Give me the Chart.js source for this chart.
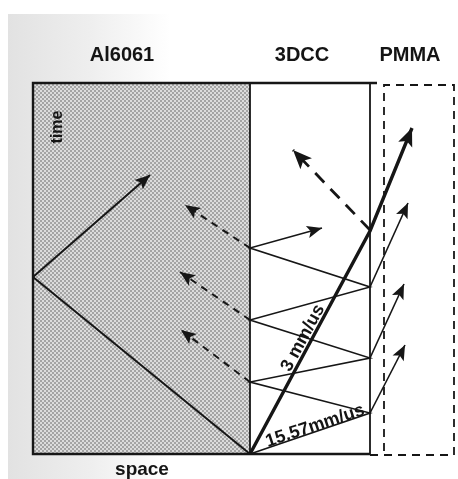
<!DOCTYPE html>
<html>
<head>
<meta charset="utf-8">
<script src="https://cdn.jsdelivr.net/npm/chart.js@4.4.1/dist/chart.umd.min.js"></script>
<style>
  html, body { margin: 0; padding: 0; background: #fff; }
  #wrap { width: 458px; height: 479px; }
</style>
</head>
<body>
<div id="wrap"><canvas id="diagram" width="458" height="479"></canvas></div>
<script>
// x-t diagram: space (x) vs time (y), arbitrary units
const spaceEdges = [0, 217, 337];      // Al left face, Al/3DCC interface, 3DCC/PMMA interface
const boxTopTime = 371;
const pmmaEdges = [351, 421];
const pmmaTime = [-1, 369];

const materialNames = ['Al6061', '3DCC', 'PMMA'];
const materialLabelSpace = [89, 269, 377];

// wave paths [space, time]
const alIncident = [[217, 0], [0, 177]];
const alRelease = [[0, 177], [117, 279]];
const shockFront = [[217, 0], [337, 223], [379, 326]];
const reverberation = [[217, 0], [337, 41], [217, 72], [337, 96], [217, 134], [337, 167], [217, 206], [289, 226]];
const transmitted = [
    [[337, 41], [372, 109]],
    [[337, 96], [371, 170]],
    [[337, 167], [375, 251]]
];
const reflectedIntoAl = [
    [[217, 72], [148, 124]],
    [[217, 134], [147, 182]],
    [[217, 206], [152, 249]]
];
const lateRelease = [[337, 224], [260, 304]];

function pts(arr) {
    return arr.map(p => ({ x: p[0], y: p[1] }));
}

function line(arr, opts) {
    return Object.assign({
        data: pts(arr),
        showLine: true,
        pointRadius: 0,
        borderColor: '#161616',
        borderWidth: 1.9,
        fill: false,
        tension: 0
    }, opts || {});
}

const datasets = [];
// frame
datasets.push(line([[spaceEdges[2], 0], [spaceEdges[0], 0], [spaceEdges[0], boxTopTime], [spaceEdges[2] + 7, boxTopTime]], { borderWidth: 2.4 }));
datasets.push(line([[spaceEdges[1], 0], [spaceEdges[1], boxTopTime]], { borderWidth: 1.8 }));
datasets.push(line([[spaceEdges[2], 0], [spaceEdges[2], boxTopTime]], { borderWidth: 1.8 }));
// PMMA dashed window
datasets.push(line([[spaceEdges[2], pmmaTime[0]], [pmmaEdges[1], pmmaTime[0]], [pmmaEdges[1], pmmaTime[1]], [pmmaEdges[0], pmmaTime[1]], [pmmaEdges[0], pmmaTime[0]]],
    { borderDash: [8, 6], borderWidth: 1.8 }));
// waves
datasets.push(line(alIncident, { borderWidth: 2 }));
datasets.push(line(alRelease, { borderWidth: 2, arrow: 15 }));
datasets.push(line(reverberation, { borderWidth: 1.6, arrow: 15 }));
transmitted.forEach(t => datasets.push(line(t, { borderWidth: 1.6, arrow: 15 })));
reflectedIntoAl.forEach(r => datasets.push(line(r, { borderDash: [7, 6], borderWidth: 2, arrow: 15 })));
datasets.push(line(lateRelease, { borderDash: [13, 9], borderWidth: 2.8, arrow: 19 }));
datasets.push(line(shockFront, { borderWidth: 3.4, arrow: 18 }));

function makeStipple(ctx) {
    const c = document.createElement('canvas');
    c.width = 4; c.height = 4;
    const g = c.getContext('2d');
    g.fillStyle = '#dcdcdc';
    g.fillRect(0, 0, 4, 4);
    g.fillStyle = '#a4a4a4';
    g.fillRect(0, 0, 2, 2);
    g.fillRect(2, 2, 2, 2);
    return ctx.createPattern(c, 'repeat');
}

const backdropPlugin = {
    id: 'backdrop',
    beforeDraw(chart) {
        const ctx = chart.ctx;
        const xs = chart.scales.x, ys = chart.scales.y;
        ctx.save();
        // scanned page tint on the left
        const grad = ctx.createLinearGradient(8, 0, 170, 0);
        grad.addColorStop(0, '#e2e2e2');
        grad.addColorStop(0.5, '#eeeeee');
        grad.addColorStop(1, '#ffffff');
        ctx.fillStyle = grad;
        ctx.fillRect(8, 14, 162, 465);
        // Al6061 stippled region
        const x0 = xs.getPixelForValue(spaceEdges[0]), x1 = xs.getPixelForValue(spaceEdges[1]);
        const y0 = ys.getPixelForValue(boxTopTime), y1 = ys.getPixelForValue(0);
        ctx.fillStyle = makeStipple(ctx);
        ctx.fillRect(x0, y0, x1 - x0, y1 - y0);
        ctx.fillStyle = '#ffffff';
        ctx.fillRect(x1, y0, xs.getPixelForValue(spaceEdges[2]) - x1, y1 - y0);
        ctx.restore();
    }
};

const arrowPlugin = {
    id: 'arrows',
    afterDatasetsDraw(chart) {
        const ctx = chart.ctx;
        const xs = chart.scales.x, ys = chart.scales.y;
        chart.data.datasets.forEach(ds => {
            if (!ds.arrow) return;
            const n = ds.data.length;
            const a = ds.data[n - 2], b = ds.data[n - 1];
            const x1 = xs.getPixelForValue(a.x), y1 = ys.getPixelForValue(a.y);
            const x2 = xs.getPixelForValue(b.x), y2 = ys.getPixelForValue(b.y);
            const ang = Math.atan2(y2 - y1, x2 - x1);
            const L = ds.arrow, W = L * 0.42;
            ctx.save();
            ctx.translate(x2, y2);
            ctx.rotate(ang);
            ctx.setLineDash([]);
            ctx.fillStyle = '#161616';
            ctx.beginPath();
            ctx.moveTo(0, 0);
            ctx.lineTo(-L, W);
            ctx.lineTo(-L * 0.78, 0);
            ctx.lineTo(-L, -W);
            ctx.closePath();
            ctx.fill();
            ctx.restore();
        });
    }
};

const labelPlugin = {
    id: 'labels',
    afterDraw(chart) {
        const ctx = chart.ctx;
        const xs = chart.scales.x, ys = chart.scales.y;
        function text(str, s, t, font, angle) {
            ctx.save();
            ctx.translate(xs.getPixelForValue(s), ys.getPixelForValue(t));
            ctx.rotate((angle || 0) * Math.PI / 180);
            ctx.font = font;
            ctx.fillStyle = '#141414';
            ctx.textAlign = 'center';
            ctx.textBaseline = 'middle';
            ctx.fillText(str, 0, 0);
            ctx.restore();
        }
        materialNames.forEach((name, i) => text(name, materialLabelSpace[i], 399, 'bold 20px "Liberation Sans", Arial', 0));
        text('time', 25, 327, 'bold 16px "Liberation Sans", Arial', -90);
        text('space', 109, -16, 'bold 19px "Liberation Sans", Arial', 0);
        text('3 mm/us', 270, 116, 'bold 18px "Liberation Sans", Arial', -61.6);
        text('15.57mm/us', 282, 28, 'bold 18px "Liberation Sans", Arial', -18.4);
    }
};

new Chart(document.getElementById('diagram').getContext('2d'), {
    type: 'scatter',
    data: { datasets: datasets },
    options: {
        responsive: false,
        animation: false,
        events: [],
        layout: { padding: 0 },
        plugins: { legend: { display: false }, tooltip: { enabled: false } },
        scales: {
            x: { type: 'linear', min: -33, max: 425, display: false },
            y: { type: 'linear', min: -25, max: 454, display: false }
        }
    },
    plugins: [backdropPlugin, arrowPlugin, labelPlugin]
});
</script>
</body>
</html>
